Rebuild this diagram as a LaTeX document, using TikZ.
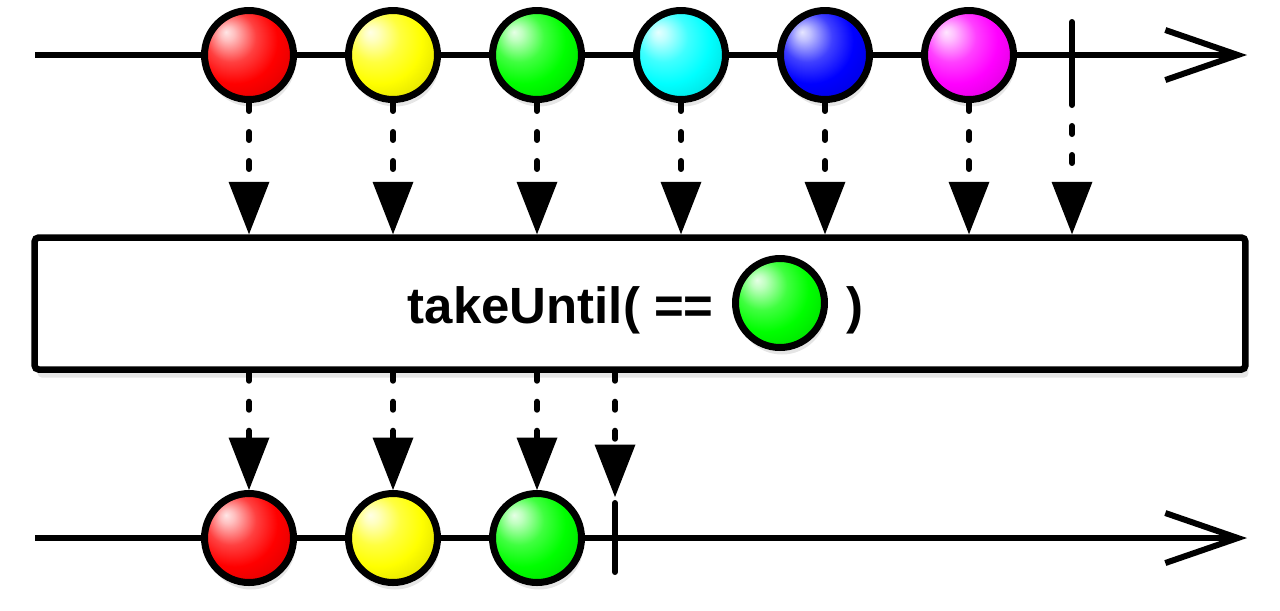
\documentclass[tikz,border=0pt]{standalone}
\usepackage{fontspec}
\setmainfont{Liberation Sans}
\usepackage{tikz}
\usetikzlibrary{shapes, arrows.meta, positioning, shadows}

\colorlet{marblecolor}{red}
\pgfdeclareradialshading[marblecolor]{marbleshade}{\pgfpoint{-13bp}{13bp}}{%
    color(0bp)=(marblecolor!10!white); color(4bp)=(marblecolor!25!white);
    color(14bp)=(marblecolor!75!white); color(24bp)=(marblecolor);
    color(42bp)=(marblecolor!80!black); color(62bp)=(marblecolor!45!black)}

\begin{document}
\begin{tikzpicture}[x=0.02cm, y=-0.02cm,
        marble/.style={draw, circle, line width=0.14cm, minimum size=1.78cm, inner sep=0pt,
            shading=marbleshade, /utils/exec={\colorlet{marblecolor}{#1}},
            drop shadow={opacity=0.2, shadow xshift=0.04cm, shadow yshift=-0.14cm}},
        timeline/.style={line width=0.12cm, -{Straight Barb[length=1.45cm, width=1.0cm]}},
        tick/.style={line width=0.12cm, line cap=round},
        emit/.style={line width=0.12cm, line cap=round, dash pattern=on 0.16cm off 0.42cm,
            -{Triangle[width=0.82cm, length=1.05cm, line width=0pt]}},
        optext/.style={font=\fontsize{29}{33}\selectfont\bfseries, inner sep=0pt}]
    \useasboundingbox (0,0) rectangle (1280,610);

    % source stream
    \coordinate (srcA) at (35,55);
    \coordinate (srcB) at (1247,55);
    \draw[timeline] (srcA) -- (srcB);
    \foreach \c [count=\i] in {red, yellow, green, cyan, blue, magenta}
        \node[marble=\c] (t\i) at ({249+144*(\i-1)},55) {};
    \coordinate (tEndA) at (1072,22);
    \coordinate (tEndB) at (1072,97);
    \draw[tick] (tEndA) -- (tEndB);

    % operator
    \node[draw, rectangle, rounded corners=0.08cm, line width=0.13cm, fill=white,
        minimum width=24.22cm, minimum height=2.64cm,
        drop shadow={opacity=0.2, shadow xshift=0.06cm, shadow yshift=-0.16cm}] (op) at (640,303.5) {};
    \node[optext, anchor=base east] (opname) at (714,323) {takeUntil( ==};
    \node[marble=green, drop shadow={opacity=0}] (opball) at (780,303) {};
    \node[optext, anchor=base west] (opclose) at (846,323) {)};

    \foreach \i in {1,...,6}
        \draw[emit] (t\i.south) -- (t\i |- op.north);
    \draw[emit] (tEndB) -- (tEndB |- op.north);

    % result stream
    \coordinate (resA) at (35,538);
    \coordinate (resB) at (1247,538);
    \draw[timeline] (resA) -- (resB);
    \foreach \c [count=\i] in {red, yellow, green}
        \node[marble=\c] (b\i) at ({249+144*(\i-1)},538) {};
    \coordinate (bEndA) at (615,503);
    \coordinate (bEndB) at (615,572);
    \coordinate (bEndHit) at (615,497);
    \draw[tick] (bEndA) -- (bEndB);

    \foreach \i in {1,2,3}
        \draw[emit] (op.south -| b\i) -- (b\i.north);
    \draw[emit] (op.south -| bEndHit) -- (bEndHit);
\end{tikzpicture}
\end{document}
